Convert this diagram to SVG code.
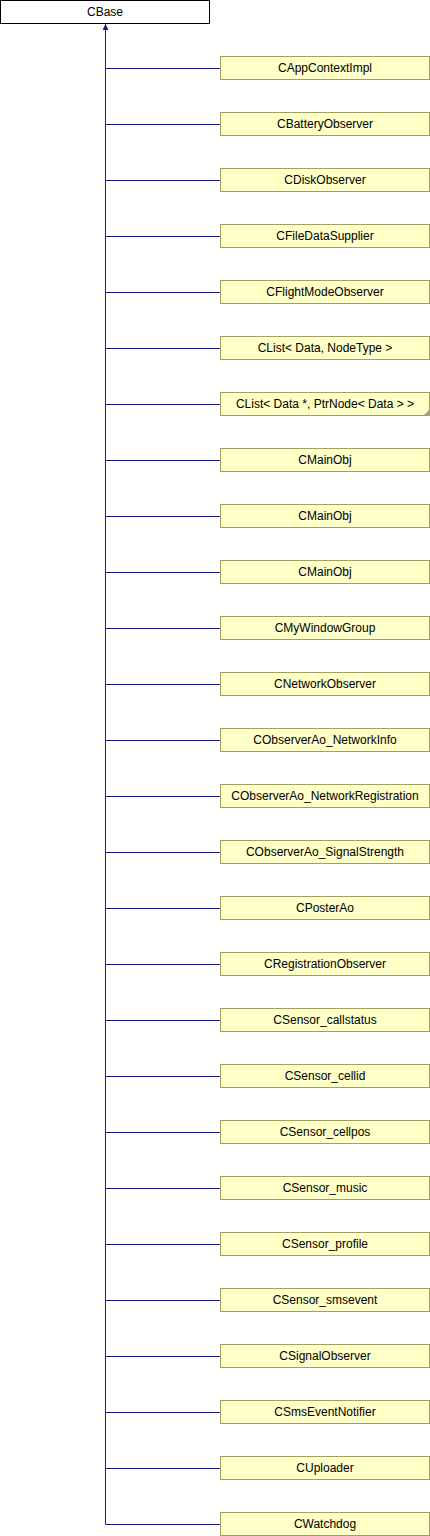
<svg xmlns="http://www.w3.org/2000/svg" width="430" height="1536" viewBox="0 0 430 1536">
<defs>
<style>
.base{fill:#ffffff;stroke:#000000;stroke-width:1}
.node{fill:#ffffc8;stroke:#a0a060;stroke-width:1}
.t{font-family:"Liberation Sans",Arial,sans-serif;font-size:12px;fill:#000000;text-anchor:middle}
.edge{stroke:#1a1a8c;stroke-width:1;fill:none}
.fold{fill:#a0a0a0}
</style>
<marker id="arr" viewBox="0 0 10 10" refX="10" refY="5" markerWidth="6" markerHeight="6" orient="auto" markerUnits="userSpaceOnUse">
<path d="M0,0 L10,5 L0,10 Z" fill="#1a1a8c"/>
</marker>
</defs>
<rect width="430" height="1536" fill="#ffffff"/>
<g id="connectors">
<path class="edge" d="M105.5,1524.5 L105.5,24" marker-end="url(#arr)"/>
<path class="edge" d="M105.5,68.5 H220.5"/>
<path class="edge" d="M105.5,124.5 H220.5"/>
<path class="edge" d="M105.5,180.5 H220.5"/>
<path class="edge" d="M105.5,236.5 H220.5"/>
<path class="edge" d="M105.5,292.5 H220.5"/>
<path class="edge" d="M105.5,348.5 H220.5"/>
<path class="edge" d="M105.5,404.5 H220.5"/>
<path class="edge" d="M105.5,460.5 H220.5"/>
<path class="edge" d="M105.5,516.5 H220.5"/>
<path class="edge" d="M105.5,572.5 H220.5"/>
<path class="edge" d="M105.5,628.5 H220.5"/>
<path class="edge" d="M105.5,684.5 H220.5"/>
<path class="edge" d="M105.5,740.5 H220.5"/>
<path class="edge" d="M105.5,796.5 H220.5"/>
<path class="edge" d="M105.5,852.5 H220.5"/>
<path class="edge" d="M105.5,908.5 H220.5"/>
<path class="edge" d="M105.5,964.5 H220.5"/>
<path class="edge" d="M105.5,1020.5 H220.5"/>
<path class="edge" d="M105.5,1076.5 H220.5"/>
<path class="edge" d="M105.5,1132.5 H220.5"/>
<path class="edge" d="M105.5,1188.5 H220.5"/>
<path class="edge" d="M105.5,1244.5 H220.5"/>
<path class="edge" d="M105.5,1300.5 H220.5"/>
<path class="edge" d="M105.5,1356.5 H220.5"/>
<path class="edge" d="M105.5,1412.5 H220.5"/>
<path class="edge" d="M105.5,1468.5 H220.5"/>
<path class="edge" d="M105.5,1524.5 H220.5"/>
</g>
<g id="n_CBase"><rect class="base" x="0.5" y="0.5" width="209" height="23"/><text class="t" x="105" y="16">CBase</text></g>
<g id="n0"><rect class="node" x="220.5" y="56.5" width="209" height="23"/><text class="t" x="325" y="72">CAppContextImpl</text></g>
<g id="n1"><rect class="node" x="220.5" y="112.5" width="209" height="23"/><text class="t" x="325" y="128">CBatteryObserver</text></g>
<g id="n2"><rect class="node" x="220.5" y="168.5" width="209" height="23"/><text class="t" x="325" y="184">CDiskObserver</text></g>
<g id="n3"><rect class="node" x="220.5" y="224.5" width="209" height="23"/><text class="t" x="325" y="240">CFileDataSupplier</text></g>
<g id="n4"><rect class="node" x="220.5" y="280.5" width="209" height="23"/><text class="t" x="325" y="296">CFlightModeObserver</text></g>
<g id="n5"><rect class="node" x="220.5" y="336.5" width="209" height="23"/><text class="t" x="325" y="352">CList&lt; Data, NodeType &gt;</text></g>
<g id="n6"><rect class="node" x="220.5" y="392.5" width="209" height="23"/><path class="fold" d="M429,410 L429,415 L424,415 Z"/><text class="t" x="325" y="408">CList&lt; Data *, PtrNode&lt; Data &gt; &gt;</text></g>
<g id="n7"><rect class="node" x="220.5" y="448.5" width="209" height="23"/><text class="t" x="325" y="464">CMainObj</text></g>
<g id="n8"><rect class="node" x="220.5" y="504.5" width="209" height="23"/><text class="t" x="325" y="520">CMainObj</text></g>
<g id="n9"><rect class="node" x="220.5" y="560.5" width="209" height="23"/><text class="t" x="325" y="576">CMainObj</text></g>
<g id="n10"><rect class="node" x="220.5" y="616.5" width="209" height="23"/><text class="t" x="325" y="632">CMyWindowGroup</text></g>
<g id="n11"><rect class="node" x="220.5" y="672.5" width="209" height="23"/><text class="t" x="325" y="688">CNetworkObserver</text></g>
<g id="n12"><rect class="node" x="220.5" y="728.5" width="209" height="23"/><text class="t" x="325" y="744">CObserverAo_NetworkInfo</text></g>
<g id="n13"><rect class="node" x="220.5" y="784.5" width="209" height="23"/><text class="t" x="325" y="800">CObserverAo_NetworkRegistration</text></g>
<g id="n14"><rect class="node" x="220.5" y="840.5" width="209" height="23"/><text class="t" x="325" y="856">CObserverAo_SignalStrength</text></g>
<g id="n15"><rect class="node" x="220.5" y="896.5" width="209" height="23"/><text class="t" x="325" y="912">CPosterAo</text></g>
<g id="n16"><rect class="node" x="220.5" y="952.5" width="209" height="23"/><text class="t" x="325" y="968">CRegistrationObserver</text></g>
<g id="n17"><rect class="node" x="220.5" y="1008.5" width="209" height="23"/><text class="t" x="325" y="1024">CSensor_callstatus</text></g>
<g id="n18"><rect class="node" x="220.5" y="1064.5" width="209" height="23"/><text class="t" x="325" y="1080">CSensor_cellid</text></g>
<g id="n19"><rect class="node" x="220.5" y="1120.5" width="209" height="23"/><text class="t" x="325" y="1136">CSensor_cellpos</text></g>
<g id="n20"><rect class="node" x="220.5" y="1176.5" width="209" height="23"/><text class="t" x="325" y="1192">CSensor_music</text></g>
<g id="n21"><rect class="node" x="220.5" y="1232.5" width="209" height="23"/><text class="t" x="325" y="1248">CSensor_profile</text></g>
<g id="n22"><rect class="node" x="220.5" y="1288.5" width="209" height="23"/><text class="t" x="325" y="1304">CSensor_smsevent</text></g>
<g id="n23"><rect class="node" x="220.5" y="1344.5" width="209" height="23"/><text class="t" x="325" y="1360">CSignalObserver</text></g>
<g id="n24"><rect class="node" x="220.5" y="1400.5" width="209" height="23"/><text class="t" x="325" y="1416">CSmsEventNotifier</text></g>
<g id="n25"><rect class="node" x="220.5" y="1456.5" width="209" height="23"/><text class="t" x="325" y="1472">CUploader</text></g>
<g id="n26"><rect class="node" x="220.5" y="1512.5" width="209" height="23"/><text class="t" x="325" y="1528">CWatchdog</text></g>
</svg>
